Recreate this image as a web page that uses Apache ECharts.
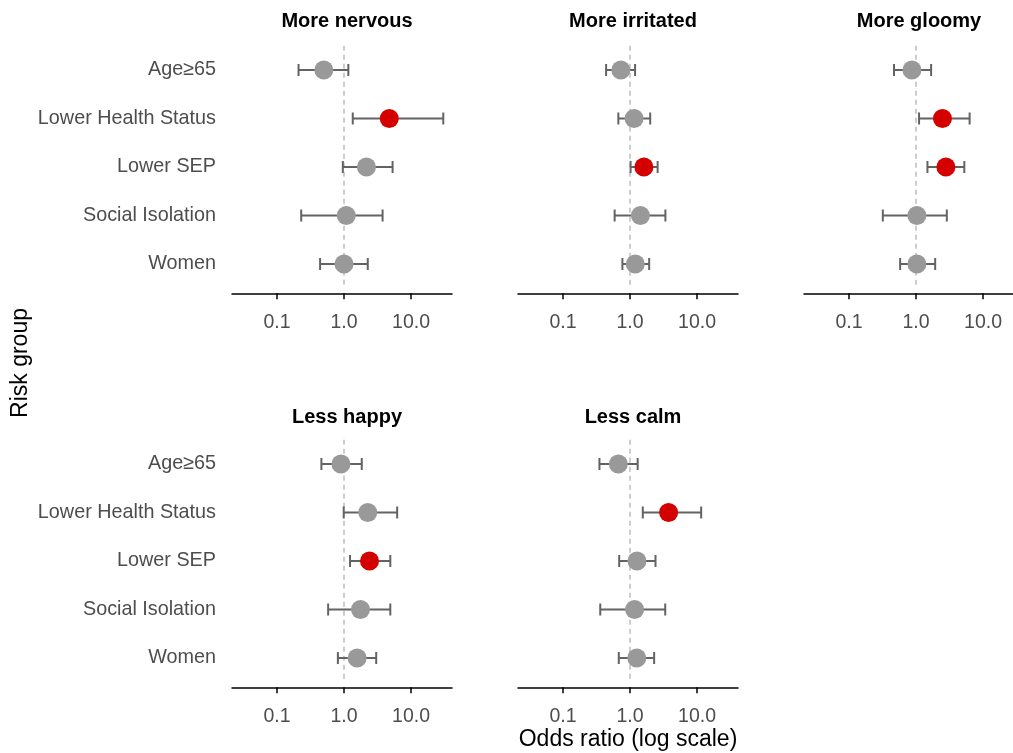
<!DOCTYPE html>
<html>
<head>
<meta charset="utf-8">
<script src="https://cdn.jsdelivr.net/npm/echarts@6/dist/echarts.min.js"></script>
<style>
  html, body { margin: 0; padding: 0; background: #fff; }
  #chart { width: 1013px; height: 753px; }
</style>
</head>
<body>
<div id="chart"></div>
<script>
// risk groups, top to bottom
var riskGroups = ['Age≥65', 'Lower Health Status', 'Lower SEP', 'Social Isolation', 'Women'];
var panelTitles = ['More nervous', 'More irritated', 'More gloomy', 'Less happy', 'Less calm'];
var tickOR = [0.1, 1, 10];

// odds ratios and 95% CI per panel
var nervousOR = [0.50, 4.73, 2.16, 1.08, 1.00];
var nervousLo = [0.21, 1.35, 0.96, 0.23, 0.44];
var nervousHi = [1.16, 30.2, 5.30, 3.76, 2.26];

var irritatedOR = [0.73, 1.15, 1.61, 1.43, 1.20];
var irritatedLo = [0.44, 0.67, 1.02, 0.59, 0.77];
var irritatedHi = [1.19, 2.00, 2.58, 3.37, 1.93];

var gloomyOR = [0.87, 2.48, 2.79, 1.03, 1.03];
var gloomyLo = [0.47, 1.11, 1.48, 0.32, 0.58];
var gloomyHi = [1.68, 6.30, 5.25, 2.88, 1.93];

var happyOR = [0.90, 2.26, 2.40, 1.76, 1.57];
var happyLo = [0.46, 0.99, 1.23, 0.58, 0.81];
var happyHi = [1.84, 6.20, 4.90, 4.90, 3.02];

var calmOR = [0.67, 3.76, 1.27, 1.17, 1.26];
var calmLo = [0.35, 1.55, 0.69, 0.36, 0.68];
var calmHi = [1.30, 11.5, 2.40, 3.35, 2.29];

var panelOR = [nervousOR, irritatedOR, gloomyOR, happyOR, calmOR];
var panelLo = [nervousLo, irritatedLo, gloomyLo, happyLo, calmLo];
var panelHi = [nervousHi, irritatedHi, gloomyHi, happyHi, calmHi];

var dom = document.getElementById('chart');
var myChart = echarts.init(dom);

var log10 = function (v) { return Math.log(v) / Math.LN10; };
var font = 'Liberation Sans, Arial, sans-serif';

// panel layout (third panel is cut off by the right edge)
var gridLeft = [232, 518, 804, 232, 518];
var gridTop = [45.75, 45.75, 45.75, 439.75, 439.75];
var gridW = [220, 220, 209, 220, 220];
var xMax = [1.61, 1.61, 1.446, 1.61, 1.61];
var titleY = [20, 20, 20, 416, 416];
var gridH = 242.5;

var grids = [], xAxes = [], yAxes = [], titles = [], series = [];

for (var p = 0; p < 5; p++) {
  grids.push({ left: gridLeft[p], top: gridTop[p], width: gridW[p], height: gridH });
  titles.push({
    text: panelTitles[p],
    left: gridLeft[p] + 110,
    top: titleY[p] - 13.5,
    textAlign: 'center',
    textStyle: { fontFamily: font, fontSize: 20, fontWeight: 'bold', color: '#000' }
  });
  xAxes.push({
    gridIndex: p,
    type: 'value',
    min: -1.67,
    max: xMax[p],
    offset: 5,
    axisLine: { show: true, onZero: false, lineStyle: { color: '#000', width: 1.5 } },
    axisTick: { show: true, length: 6, customValues: tickOR.map(log10), lineStyle: { color: '#000', width: 1.5 } },
    axisLabel: {
      customValues: tickOR.map(log10),
      formatter: function (v) { return Math.pow(10, v).toFixed(1); },
      fontFamily: font, fontSize: 19.5, color: '#4d4d4d', margin: 19
    },
    splitLine: { show: false }
  });
  yAxes.push({
    gridIndex: p,
    type: 'category',
    data: riskGroups,
    inverse: true,
    axisLine: { show: false },
    axisTick: { show: false },
    axisLabel: {
      show: p === 0 || p === 3,
      fontFamily: font, fontSize: 19.8, color: '#4d4d4d', margin: 16,
      padding: [3, 0, 0, 0]
    },
    splitLine: { show: false }
  });

  var barData = [], pointData = [];
  for (var i = 0; i < riskGroups.length; i++) {
    barData.push([log10(panelLo[p][i]), log10(panelHi[p][i]), i]);
    pointData.push({
      value: [log10(panelOR[p][i]), i],
      itemStyle: { color: panelLo[p][i] > 1 ? '#d40000' : '#999999', opacity: 1 }
    });
  }

  series.push({
    type: 'custom',
    xAxisIndex: p,
    yAxisIndex: p,
    encode: { x: [0, 1], y: 2 },
    data: barData,
    silent: true,
    renderItem: function (params, api) {
      var a = api.coord([api.value(0), api.value(2)]);
      var b = api.coord([api.value(1), api.value(2)]);
      var c = 6;
      var st = { stroke: '#636363', lineWidth: 2 };
      return {
        type: 'group',
        children: [
          { type: 'line', shape: { x1: a[0], y1: a[1], x2: b[0], y2: b[1] }, style: st },
          { type: 'line', shape: { x1: a[0], y1: a[1] - c, x2: a[0], y2: a[1] + c }, style: st },
          { type: 'line', shape: { x1: b[0], y1: b[1] - c, x2: b[0], y2: b[1] + c }, style: st }
        ]
      };
    },
    z: 2
  });
  series.push({
    type: 'scatter',
    xAxisIndex: p,
    yAxisIndex: p,
    symbol: 'circle',
    symbolSize: 19,
    data: pointData,
    z: 3,
    markLine: {
      silent: true,
      symbol: 'none',
      label: { show: false },
      lineStyle: { color: '#bdbdbd', type: [5, 4], width: 1.5 },
      data: [{ xAxis: 0 }],
      z: 1
    }
  });
}

option = {
  backgroundColor: '#fff',
  animation: false,
  title: titles,
  grid: grids,
  xAxis: xAxes,
  yAxis: yAxes,
  series: series,
  graphic: [
    {
      type: 'text',
      x: 21, y: 363,
      rotation: Math.PI / 2,
      style: { text: 'Risk group', fontFamily: font, fontSize: 23, fill: '#000', align: 'center', verticalAlign: 'middle' }
    },
    {
      type: 'text',
      x: 628, y: 740,
      style: { text: 'Odds ratio (log scale)', fontFamily: font, fontSize: 23, fill: '#000', align: 'center', verticalAlign: 'middle' }
    }
  ]
};

if (option && typeof option === 'object') {
  myChart.setOption(option, true);
}
</script>
</body>
</html>
